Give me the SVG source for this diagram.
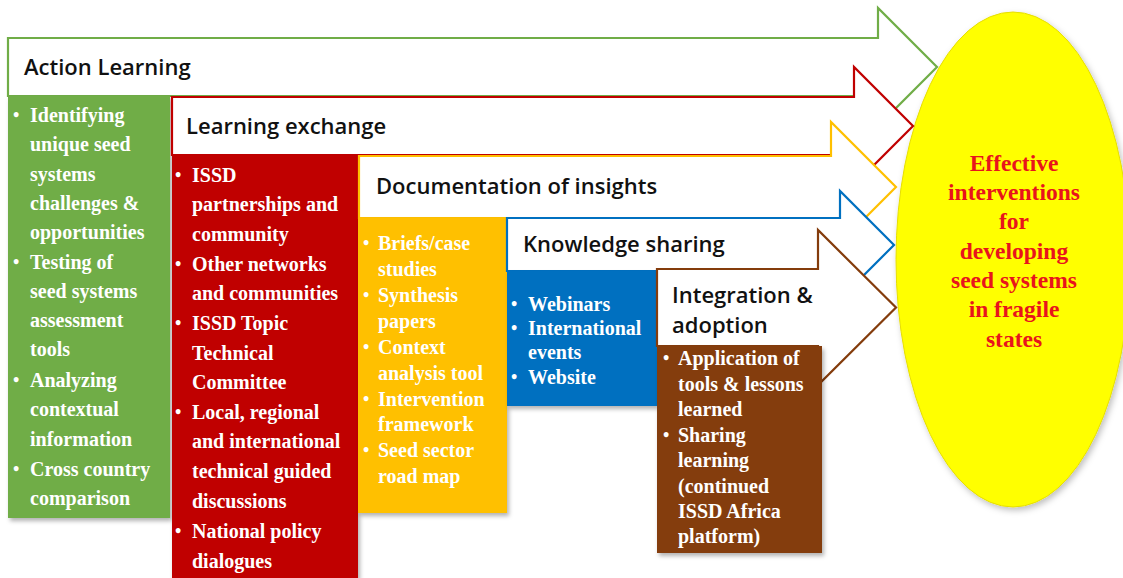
<svg xmlns="http://www.w3.org/2000/svg" width="1123" height="578" viewBox="0 0 1123 578">
<defs>
<filter id="sh" x="-5%" y="-5%" width="115%" height="115%">
<feDropShadow dx="2" dy="3" stdDeviation="2" flood-color="#000" flood-opacity="0.3"/>
</filter>
<filter id="esh" x="-5%" y="-5%" width="115%" height="115%">
<feDropShadow dx="2" dy="3" stdDeviation="3" flood-color="#000" flood-opacity="0.25"/>
</filter>
</defs>
<style>
.arr{fill:#fff;stroke-width:2.2;stroke-linejoin:miter}
.ttl{font-family:"Open Sans","Liberation Sans",sans-serif;font-weight:600;font-size:22px;fill:#111}
.bt{font-family:"Liberation Serif","Times New Roman",serif;font-weight:bold;font-size:20px;fill:#fff}
.bu{font-family:"Liberation Serif","Times New Roman",serif;font-weight:bold;font-size:18px;fill:#fff}
.et{font-family:"Liberation Serif","Times New Roman",serif;font-weight:bold;font-size:23.5px;fill:#e8141c;text-anchor:middle}
</style>
<rect width="1123" height="578" fill="#fff"/>
<g id="goal">
<ellipse cx="1013" cy="259.5" rx="117" ry="247.5" fill="#ffff00" stroke="#e6de00" stroke-width="1" filter="url(#esh)"/>
<text class="et" x="1014" y="171">Effective</text>
<text class="et" x="1014" y="200">interventions</text>
<text class="et" x="1014" y="229">for</text>
<text class="et" x="1014" y="259">developing</text>
<text class="et" x="1014" y="288">seed systems</text>
<text class="et" x="1014" y="317">in fragile</text>
<text class="et" x="1014" y="347">states</text>
</g>
<g id="connectors"/>
<g id="action-learning">
<polygon class="arr" stroke="#70ad47" points="8,38 878,38 878,8 937,67 878,126 878,96 8,96"/>
<text class="ttl" x="24" y="75">Action Learning</text>
<rect x="8" y="96" width="162" height="422" fill="#70ad47" filter="url(#sh)"/>
<text class="bu" x="13" y="121">•</text><text class="bt" x="30" y="122">Identifying</text>
<text class="bt" x="30" y="151">unique seed</text>
<text class="bt" x="30" y="181">systems</text>
<text class="bt" x="30" y="210">challenges &amp;</text>
<text class="bt" x="30" y="239">opportunities</text>
<text class="bu" x="13" y="268">•</text><text class="bt" x="30" y="269">Testing of</text>
<text class="bt" x="30" y="298">seed systems</text>
<text class="bt" x="30" y="327">assessment</text>
<text class="bt" x="30" y="356">tools</text>
<text class="bu" x="13" y="386">•</text><text class="bt" x="30" y="387">Analyzing</text>
<text class="bt" x="30" y="416">contextual</text>
<text class="bt" x="30" y="446">information</text>
<text class="bu" x="13" y="475">•</text><text class="bt" x="30" y="476">Cross country</text>
<text class="bt" x="30" y="505">comparison</text>
</g>
<g id="learning-exchange">
<polygon class="arr" stroke="#c00000" points="172,97 854,97 854,67 913,126 854,185 854,155 172,155"/>
<text class="ttl" x="186" y="134">Learning exchange</text>
<rect x="172" y="155" width="186" height="423" fill="#c00000" filter="url(#sh)"/>
<text class="bu" x="175" y="181">•</text><text class="bt" x="192" y="182">ISSD</text>
<text class="bt" x="192" y="211">partnerships and</text>
<text class="bt" x="192" y="241">community</text>
<text class="bu" x="175" y="270">•</text><text class="bt" x="192" y="271">Other networks</text>
<text class="bt" x="192" y="300">and communities</text>
<text class="bu" x="175" y="329">•</text><text class="bt" x="192" y="330">ISSD Topic</text>
<text class="bt" x="192" y="360">Technical</text>
<text class="bt" x="192" y="389">Committee</text>
<text class="bu" x="175" y="418">•</text><text class="bt" x="192" y="419">Local, regional</text>
<text class="bt" x="192" y="448">and international</text>
<text class="bt" x="192" y="478">technical guided</text>
<text class="bt" x="192" y="508">discussions</text>
<text class="bu" x="175" y="537">•</text><text class="bt" x="192" y="538">National policy</text>
<text class="bt" x="192" y="568">dialogues</text>
</g>
<g id="documentation">
<polygon class="arr" stroke="#ffc000" points="359,156 831,156 831,122 896,187 831,252 831,218 359,218"/>
<text class="ttl" x="376" y="194">Documentation of insights</text>
<rect x="358" y="218" width="149" height="295" fill="#ffc000" filter="url(#sh)"/>
<text class="bu" x="363" y="249">•</text><text class="bt" x="378" y="250">Briefs/case</text>
<text class="bt" x="378" y="276">studies</text>
<text class="bu" x="363" y="301">•</text><text class="bt" x="378" y="302">Synthesis</text>
<text class="bt" x="378" y="328">papers</text>
<text class="bu" x="363" y="353">•</text><text class="bt" x="378" y="354">Context</text>
<text class="bt" x="378" y="380">analysis tool</text>
<text class="bu" x="363" y="405">•</text><text class="bt" x="378" y="406">Intervention</text>
<text class="bt" x="378" y="431">framework</text>
<text class="bu" x="363" y="456">•</text><text class="bt" x="378" y="457">Seed sector</text>
<text class="bt" x="378" y="483">road map</text>
</g>
<g id="knowledge-sharing">
<polygon class="arr" stroke="#0070c0" points="507,218 840,218 840,191 894,245 840,299 840,271 507,271"/>
<text class="ttl" x="523" y="252">Knowledge sharing</text>
<rect x="507" y="271" width="150" height="135" fill="#0070c0" filter="url(#sh)"/>
<text class="bu" x="511" y="310">•</text><text class="bt" x="528" y="311">Webinars</text>
<text class="bu" x="511" y="334">•</text><text class="bt" x="528" y="335">International</text>
<text class="bt" x="528" y="359">events</text>
<text class="bu" x="511" y="383">•</text><text class="bt" x="528" y="384">Website</text>
</g>
<g id="integration">
<polygon class="arr" stroke="#843c0c" points="657,269 818,269 818,230 896,307.5 818,385 818,346 657,346"/>
<text class="ttl" x="672" y="303">Integration &amp;</text>
<text class="ttl" x="672" y="333">adoption</text>
<rect x="657" y="346" width="165" height="207" fill="#843c0c" filter="url(#sh)"/>
<text class="bu" x="663" y="364">•</text><text class="bt" x="678" y="365">Application of</text>
<text class="bt" x="678" y="391">tools &amp; lessons</text>
<text class="bt" x="678" y="416">learned</text>
<text class="bu" x="663" y="441">•</text><text class="bt" x="678" y="442">Sharing</text>
<text class="bt" x="678" y="467">learning</text>
<text class="bt" x="678" y="493">(continued</text>
<text class="bt" x="678" y="518">ISSD Africa</text>
<text class="bt" x="678" y="543">platform)</text>
</g>
</svg>
